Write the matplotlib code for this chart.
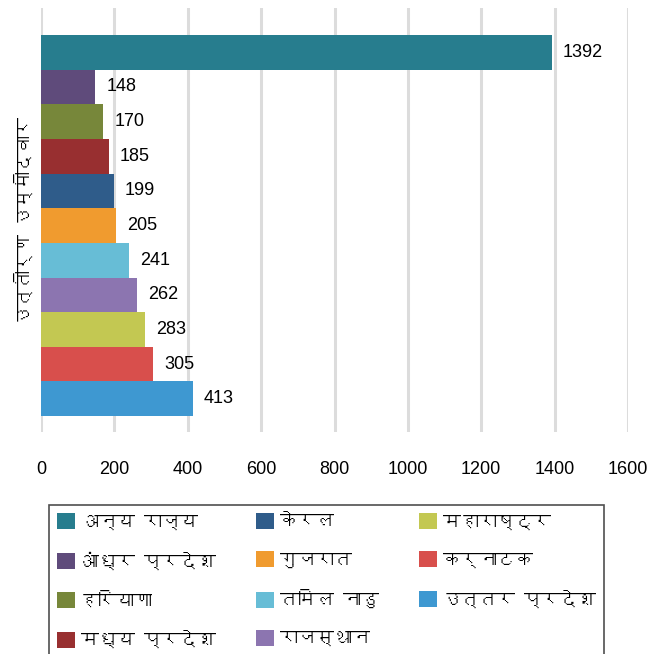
import matplotlib
matplotlib.use('Agg')
from matplotlib import pyplot as plt
from matplotlib import font_manager
from matplotlib.ft2font import FT2Font

states = ['अन्य राज्य', 'आंध्र प्रदेश', 'हरियाणा', 'मध्य प्रदेश', 'केरल', 'गुजरात',
          'तमिल नाडु', 'राजस्थान', 'महाराष्ट्र', 'कर्नाटक', 'उत्तर प्रदेश']
passed = [1392, 148, 170, 185, 199, 205, 241, 262, 283, 305, 413]
colors = ['#277D8E', '#5F4B7B', '#77873A', '#982F30', '#2F5C8A', '#F09B2F',
          '#67BDD6', '#8C75B0', '#C3C852', '#D84F4C', '#3E98D1']
x_ticks = [0, 200, 400, 600, 800, 1000, 1200, 1400, 1600]
y_label = 'उत्तीर्ण उम्मीदवार'


def find_devanagari_font():
    # matplotlib has no fallback for Devanagari, so look for an installed font that has it
    for f in font_manager.fontManager.ttflist:
        try:
            if 0x0915 in FT2Font(f.fname).get_charmap():
                return f.name
        except Exception:
            pass
    return None


deva = find_devanagari_font()
deva_family = [deva, 'DejaVu Sans'] if deva else ['DejaVu Sans']
plt.rcParams['font.family'] = ['Liberation Sans', 'DejaVu Sans']

fig = plt.figure(figsize=(6.67, 6.54), dpi=100)
ax = fig.add_axes([41 / 667, 1 - 432 / 654, 587 / 667, 424 / 654])

handles = []
for i, (name, val, col) in enumerate(zip(states, passed, colors)):
    bars = ax.barh(i, val, height=1.0, color=col, label=name, zorder=3)
    ax.bar_label(bars, labels=[str(val)], padding=8, fontsize=13, color='black')
    handles.append(bars)

ax.set_xlim(0, 1600)
ax.set_ylim(10.96, -1.28)
ax.set_xticks(x_ticks)
ax.set_xticklabels([str(t) for t in x_ticks], fontsize=13)
ax.set_yticks([])
ax.tick_params(axis='x', length=0, pad=21)
ax.grid(axis='x', color='#DCDCDC', linewidth=2.2, zorder=0)
for s in ax.spines.values():
    s.set_visible(False)

ax.set_ylabel(y_label, fontsize=13, family=deva_family, labelpad=6)

leg = fig.legend(handles=handles, labels=states, loc='upper left', ncol=3,
                 bbox_to_anchor=(49 / 667, 1 - 505 / 654, 555 / 667, 0),
                 mode='expand', frameon=True, fancybox=False,
                 prop={'family': deva_family, 'size': 13},
                 handlelength=1.0, handleheight=1.0, handletextpad=0.3,
                 labelspacing=1.2, borderpad=0.45, borderaxespad=0)
leg.get_frame().set_edgecolor('#222222')
leg.get_frame().set_linewidth(1.2)

fig.savefig('out.png', dpi=100)
